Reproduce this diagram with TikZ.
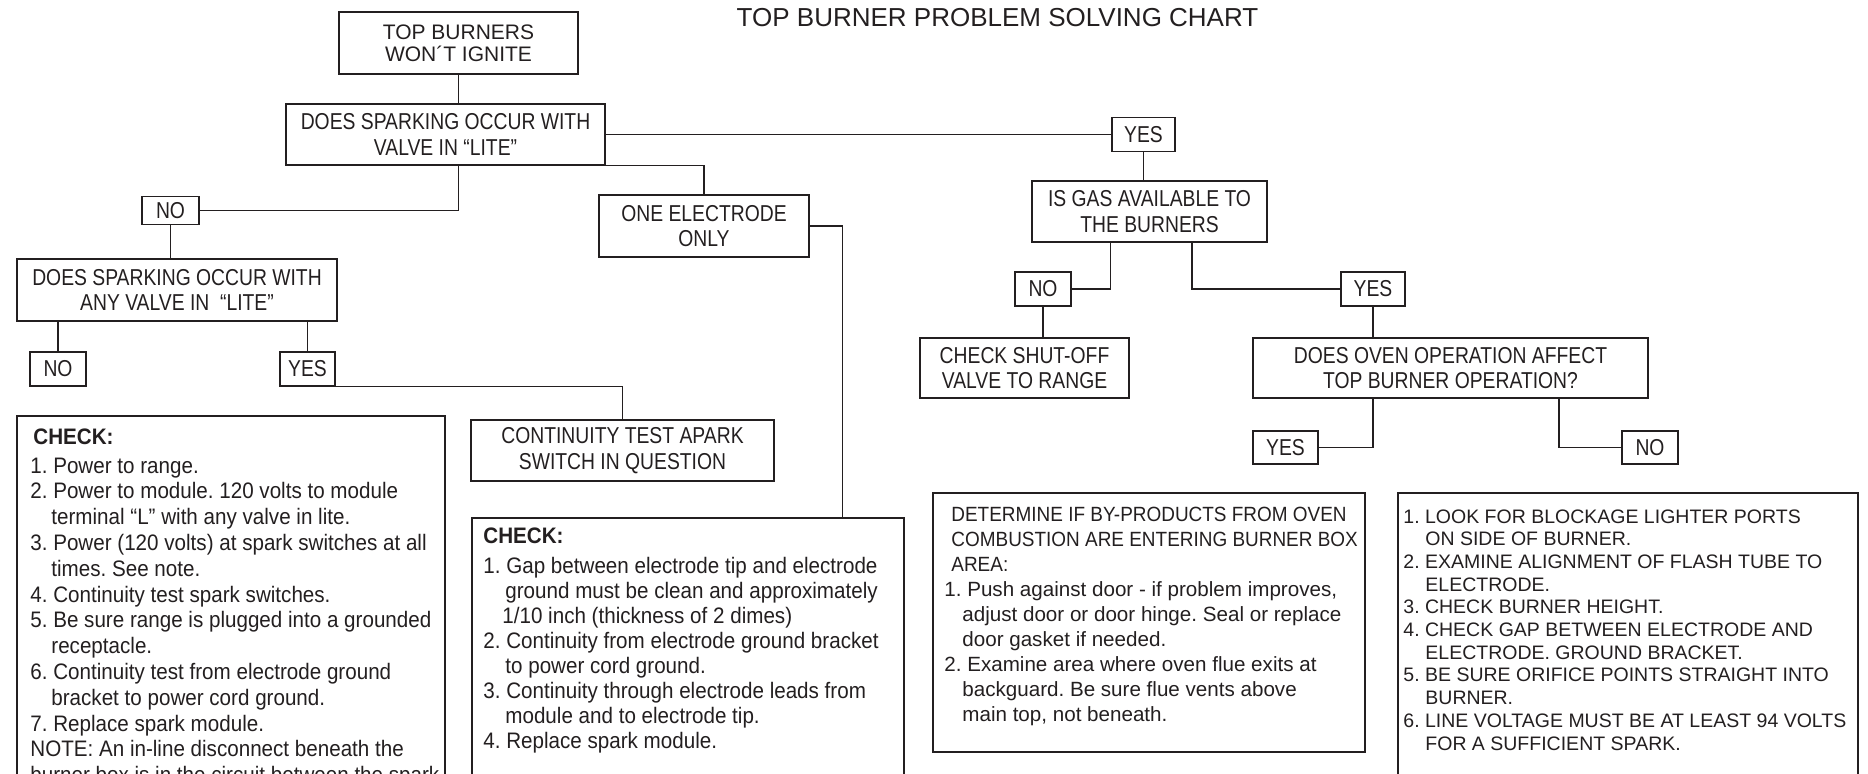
\documentclass[tikz,border=0pt]{standalone}
\usepackage{fontspec}
\setmainfont{Liberation Sans}
\newfontfamily\narrowfont[FakeStretch=0.84]{Liberation Sans}
\newfontfamily\semifont[FakeStretch=0.92]{Liberation Sans}
\usetikzlibrary{positioning,calc}
\definecolor{ink}{RGB}{35,31,32}
\newcommand{\indnt}[1][11pt]{\hspace*{#1}}
\frenchspacing

\begin{document}
\begin{tikzpicture}[x=0.5pt,y=-0.5pt,
    qbox/.style={draw=ink,line width=0.85pt,inner sep=0pt,align=center,text=ink,
                 font=\narrowfont\fontsize{11.5}{12.7}\selectfont},
    panel/.style={draw=ink,line width=0.85pt,inner sep=0pt,anchor=north west},
    listtxt/.style={inner sep=0pt,align=left,text=ink},
    link/.style={draw=ink,line width=0.65pt}]
  \useasboundingbox (0,0) rectangle (1868,774);
  \clip (0,0) rectangle (1868,774);

  \node[text=ink,font=\fontsize{13}{15}\selectfont,anchor=base]
    (title) at (997.5,27) {TOP BURNER PROBLEM SOLVING CHART};

  % left branch
  \node[qbox,font=\fontsize{10.5}{11.2}\selectfont,minimum width=119.5pt,minimum height=31pt]
    (top) at (458.5,43) {TOP BURNERS\\WON´T IGNITE};
  \node[qbox,minimum width=159.5pt,minimum height=30.5pt]
    (q1) at (445.5,134.5) {DOES SPARKING OCCUR WITH\\VALVE IN “LITE”};
  \node[qbox,minimum width=28.5pt,minimum height=14pt] (no1) at (170.5,210.5) {NO};
  \node[qbox,minimum width=105pt,minimum height=31pt]
    (one) at (704,226) {ONE ELECTRODE\\ONLY};
  \node[qbox,minimum width=160pt,minimum height=31pt]
    (q2) at (177,290) {DOES SPARKING OCCUR WITH\\ANY VALVE IN \ “LITE”};
  \node[qbox,minimum width=28pt,minimum height=17pt] (no2) at (58,369) {NO};
  \node[qbox,minimum width=27.5pt,minimum height=17pt] (yes2) at (307.5,369) {YES};
  \node[qbox,minimum width=151.5pt,minimum height=30.5pt]
    (cont) at (622.5,450.5) {CONTINUITY TEST APARK\\SWITCH IN QUESTION};

  % right branch
  \node[qbox,minimum width=31.5pt,minimum height=17pt] (yes1) at (1143.5,134.5) {YES};
  \node[qbox,minimum width=117.5pt,minimum height=30.5pt]
    (gas) at (1149.5,211.5) {IS GAS AVAILABLE TO\\THE BURNERS};
  \node[qbox,minimum width=28pt,minimum height=17pt] (no3) at (1043,289) {NO};
  \node[qbox,minimum width=32pt,minimum height=17pt] (yes3) at (1373,289) {YES};
  \node[qbox,minimum width=104.5pt,minimum height=30pt]
    (shut) at (1024.5,368) {CHECK SHUT-OFF\\VALVE TO RANGE};
  \node[qbox,minimum width=197.5pt,minimum height=30pt]
    (oven) at (1450.5,368) {DOES OVEN OPERATION AFFECT\\TOP BURNER OPERATION?};
  \node[qbox,minimum width=32.5pt,minimum height=16.5pt] (yes4) at (1285.5,447.5) {YES};
  \node[qbox,minimum width=28pt,minimum height=16.5pt] (no4) at (1650,447.5) {NO};

  % check lists
  \node[panel,minimum width=214pt,minimum height=200pt] (chk1) at (16,415) {};
  \node[listtxt,font=\semifont\fontsize{11.2}{12.9}\selectfont,
        below right=6.5pt and 7pt of chk1.north west] (chk1txt)
    {{\bfseries\indnt[1.5pt]CHECK:}\\[1.6pt]
     1. Power to range.\\
     2. Power to module. 120 volts to module\\
     \indnt[10.5pt]terminal “L” with any valve in lite.\\
     3. Power (120 volts) at spark switches at all\\
     \indnt[10.5pt]times. See note.\\
     4. Continuity test spark switches.\\
     5. Be sure range is plugged into a grounded\\
     \indnt[10.5pt]receptacle.\\
     6. Continuity test from electrode ground\\
     \indnt[10.5pt]bracket to power cord ground.\\
     7. Replace spark module.\\
     NOTE: An in-line disconnect beneath the\\
     burner box is in the circuit between the spark};

  \node[panel,minimum width=216pt,minimum height=200pt] (chk2) at (471,517) {};
  \node[listtxt,font=\semifont\fontsize{11.2}{12.5}\selectfont,
        below right=5pt and 6pt of chk2.north west] (chk2txt)
    {{\bfseries CHECK:}\\[2.5pt]
     1. Gap between electrode tip and electrode\\
     \indnt ground must be clean and approximately\\
     \indnt[9.5pt]1/10 inch (thickness of 2 dimes)\\
     2. Continuity from electrode ground bracket\\
     \indnt to power cord ground.\\
     3. Continuity through electrode leads from\\
     \indnt module and to electrode tip.\\
     4. Replace spark module.};

  \node[panel,minimum width=216pt,minimum height=129.5pt] (det) at (932,492) {};
  \node[listtxt,font=\fontsize{10.3}{12.5}\selectfont,
        below right=7.5pt and 6pt of det.north west] (dettxt)
    {{\semifont\indnt[3.5pt]DETERMINE IF BY-PRODUCTS FROM OVEN}\\
     {\semifont\indnt[3.5pt]COMBUSTION ARE ENTERING BURNER BOX}\\
     {\semifont\indnt[3.5pt]AREA:}\\
     1. Push against door - if problem improves,\\
     \indnt[9pt]adjust door or door hinge. Seal or replace\\
     \indnt[9pt]door gasket if needed.\\
     2. Examine area where oven flue exits at\\
     \indnt[9pt]backguard. Be sure flue vents above\\
     \indnt[9pt]main top, not beneath.};

  \node[panel,minimum width=230pt,minimum height=200pt] (fix) at (1397,492) {};
  \node[listtxt,font=\fontsize{9.75}{11.35}\selectfont,
        below right=8.5pt and 3pt of fix.north west] (fixtxt)
    {1. LOOK FOR BLOCKAGE LIGHTER PORTS\\
     \indnt ON SIDE OF BURNER.\\
     2. EXAMINE ALIGNMENT OF FLASH TUBE TO\\
     \indnt ELECTRODE.\\
     3. CHECK BURNER HEIGHT.\\
     4. CHECK GAP BETWEEN ELECTRODE AND\\
     \indnt ELECTRODE. GROUND BRACKET.\\
     5. BE SURE ORIFICE POINTS STRAIGHT INTO\\
     \indnt BURNER.\\
     6. LINE VOLTAGE MUST BE AT LEAST 94 VOLTS\\
     \indnt FOR A SUFFICIENT SPARK.};

  % connectors
  \draw[link] (top.south) -- (top.south |- q1.north);
  \draw[link] (top.south |- q1.south) |- (no1.east);
  \draw[link] (q1.south east) -| (one.north);
  \draw[link] (q1.east) -- (yes1.west);
  \draw[link] (yes1.south) -- (yes1.south |- gas.north);
  \draw[link] (no1.south) -- (no1.south |- q2.north);
  \draw[link] (no2.north |- q2.south) -- (no2.north);
  \draw[link] (yes2.north |- q2.south) -- (yes2.north);
  \draw[link] (yes2.south east) -| (cont.north);
  \draw[link] (one.east) -| ($(chk2.north east)+(-62,0)$);
  \draw[link] ($(gas.south west)+(79,0)$) |- (no3.east);
  \draw[link] ($(gas.south east)+(-76,0)$) |- (yes3.west);
  \draw[link] (no3.south) -- (no3.south |- shut.north);
  \draw[link] (yes3.south) -- (yes3.south |- oven.north);
  \draw[link] (yes3.south |- oven.south) |- (yes4.east);
  \draw[link] ($(oven.south east)+(-90,0)$) |- (no4.west);
\end{tikzpicture}
\end{document}
